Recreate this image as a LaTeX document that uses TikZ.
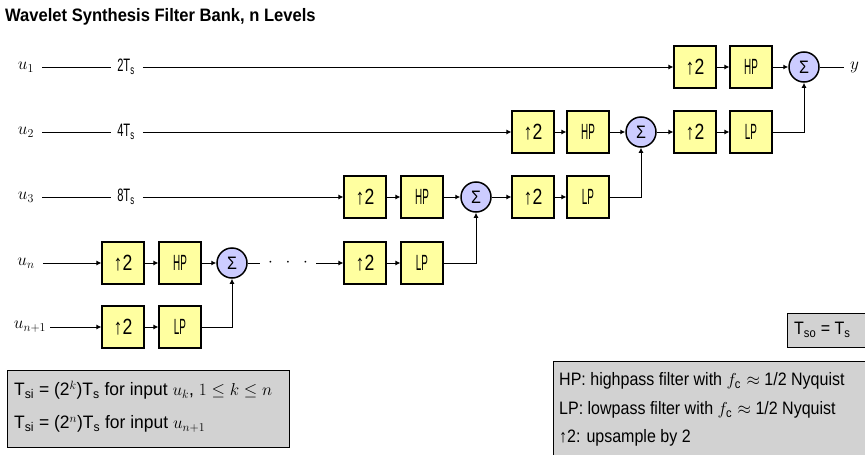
\documentclass[tikz,border=0pt]{standalone}
\usepackage{fontspec}
\setmainfont{Liberation Sans}[FakeStretch=0.89]
\newfontfamily\lblfont{Liberation Sans}[FakeStretch=0.62]
\newfontfamily\boxfont{Liberation Sans}[FakeStretch=0.45]
\newfontfamily\upfont{Liberation Sans}[FakeStretch=0.8]
\newfontfamily\leftnotefont{Liberation Sans}[FakeStretch=0.97]
\newfontfamily\titlefont{Liberation Sans}[FakeStretch=0.92]
\usetikzlibrary{arrows.meta}
\definecolor{boxyellow}{RGB}{255,255,160}
\definecolor{sumblue}{RGB}{204,204,255}
\definecolor{notegray}{RGB}{210,210,210}
\newcommand\sbs[1]{\textsubscript{#1}}
\begin{document}
\begin{tikzpicture}[x=1pt,y=-1pt,
  blk/.style={draw, line width=1.1pt, fill=boxyellow, minimum width=42pt, minimum height=42pt, inner sep=0pt, font=\boxfont\fontsize{22}{22}\selectfont},
  upblk/.style={blk, font=\upfont\fontsize{22}{22}\selectfont},
  sumnode/.style={circle, draw, line width=1.5pt, fill=sumblue, minimum size=30pt, inner sep=0pt, font=\fontsize{18}{18}\selectfont},
  sig/.style={line width=1pt},
  arr/.style={sig, -{Latex[length=5pt,width=5pt]}},
  ulbl/.style={inner sep=0pt, font=\fontsize{18}{18}\selectfont},
  rlbl/.style={inner sep=0pt, font=\lblfont\fontsize{18}{18}\selectfont},
  txt/.style={anchor=west, inner sep=0pt, font=\fontsize{18}{18}\selectfont},
  ltxt/.style={txt, font=\leftnotefont\fontsize{18}{18}\selectfont},
  note/.style={draw, line width=1.1pt, fill=notegray}
]
\useasboundingbox (0,0) rectangle (865,455);
% title
\node[anchor=west, inner sep=0pt, font=\titlefont\bfseries\fontsize{18}{18}\selectfont] (title) at (5,17) {Wavelet Synthesis Filter Bank, n Levels};

% input labels
\node[ulbl] (u1) at (26,67) {$u_1$};
\node[ulbl] (u2) at (26,132) {$u_2$};
\node[ulbl] (u3) at (26,197) {$u_3$};
\node[ulbl] (un) at (26,263) {$u_n$};
\node[ulbl] (un1) at (30,327) {$u_{n+1}$};
\node[rlbl] (r1) at (126,67) {2T\sbs{s}};
\node[rlbl] (r2) at (126,132) {4T\sbs{s}};
\node[rlbl] (r3) at (126,197) {8T\sbs{s}};

% row 1
\node[upblk] (up1) at (695,67) {↑2};
\node[blk] (hp1) at (751,67) {HP};
\node[sumnode] (sum1) at (804,67) {Σ};
\node[ulbl, anchor=west] (y) at (850,67) {$y$};
% row 2
\node[upblk] (up2a) at (533,132) {↑2};
\node[blk] (hp2) at (588,132) {HP};
\node[sumnode] (sum2) at (641,132) {Σ};
\node[upblk] (up2b) at (695,132) {↑2};
\node[blk] (lp2) at (751,132) {LP};
% row 3
\node[upblk] (up3a) at (365,197) {↑2};
\node[blk] (hp3) at (422,197) {HP};
\node[sumnode] (sum3) at (476,197) {Σ};
\node[upblk] (up3b) at (533,197) {↑2};
\node[blk] (lp3) at (588,197) {LP};
% row n
\node[upblk] (upn) at (123,263) {↑2};
\node[blk] (hpn) at (180,263) {HP};
\node[sumnode] (sumn) at (232,263) {Σ};
\node[ulbl] (dots) at (288,263) {$\cdot\ \ \cdot\ \ \cdot$};
\node[upblk] (upn2) at (365,263) {↑2};
\node[blk] (lpn) at (422,263) {LP};
% row n+1
\node[upblk] (upn1) at (123,327) {↑2};
\node[blk] (lpn1) at (180,327) {LP};

% connectors row 1
\draw[sig] ([xshift=8pt]u1.east) -- ([xshift=-6pt]r1.west);
\draw[arr] ([xshift=8pt]r1.east) -- (up1.west);
\draw[arr] (up1) -- (hp1);
\draw[arr] (hp1) -- (sum1);
\draw[sig] (sum1.east) -- ([xshift=-6pt]y.west);
% row 2
\draw[sig] ([xshift=8pt]u2.east) -- ([xshift=-6pt]r2.west);
\draw[arr] ([xshift=8pt]r2.east) -- (up2a.west);
\draw[arr] (up2a) -- (hp2);
\draw[arr] (hp2) -- (sum2);
\draw[arr] (sum2) -- (up2b);
\draw[arr] (up2b) -- (lp2);
\draw[arr] (lp2.east) -| (sum1.south);
% row 3
\draw[sig] ([xshift=8pt]u3.east) -- ([xshift=-6pt]r3.west);
\draw[arr] ([xshift=8pt]r3.east) -- (up3a.west);
\draw[arr] (up3a) -- (hp3);
\draw[arr] (hp3) -- (sum3);
\draw[arr] (sum3) -- (up3b);
\draw[arr] (up3b) -- (lp3);
\draw[arr] (lp3.east) -| (sum2.south);
% row n
\draw[arr] ([xshift=8pt]un.east) -- (upn.west);
\draw[arr] (upn) -- (hpn);
\draw[arr] (hpn) -- (sumn);
\draw[sig] (sumn.east) -- ([xshift=-8pt]dots.west);
\draw[arr] ([xshift=8pt]dots.east) -- (upn2.west);
\draw[arr] (upn2) -- (lpn);
\draw[arr] (lpn.east) -| (sum3.south);
% row n+1
\draw[arr] ([xshift=4pt]un1.east) -- (upn1.west);
\draw[arr] (upn1) -- (lpn1);
\draw[arr] (lpn1.east) -| (sumn.south);

% notes
\node[note, anchor=north west, minimum width=282pt, minimum height=77pt, inner sep=0pt] (nl) at (7,370) {};
\node[ltxt] (nl1) at (14,390) {T\sbs{si} = (2$^{k}$)T\sbs{s} for input $u_k$, $1\le k\le n$};
\node[ltxt] (nl2) at (14,424) {T\sbs{si} = (2$^{n}$)T\sbs{s} for input $u_{n+1}$};

\node[note, anchor=north west, minimum width=90pt, minimum height=34pt, inner sep=0pt] (nso) at (787,313) {};
\node[txt] (nso1) at (794,330) {T\sbs{so} = T\sbs{s}};

\node[note, anchor=north west, minimum width=330pt, minimum height=110pt, inner sep=0pt] (nr) at (553,361) {};
\node[txt] (nr1) at (559,381) {HP: highpass filter with $f_{\mathrm{c}}\approx$ 1/2 Nyquist};
\node[txt] (nr2) at (559,410) {LP: lowpass filter with $f_{\mathrm{c}}\approx$ 1/2 Nyquist};
\node[txt] (nr3) at (559,438) {↑2: upsample by 2};
\end{tikzpicture}
\end{document}
